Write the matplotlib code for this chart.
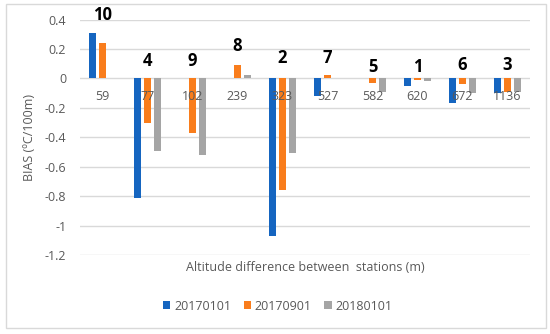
import matplotlib
matplotlib.use("Agg")
import matplotlib.pyplot as plt
from matplotlib.patches import Rectangle
import numpy as np

plt.rcParams["font.family"] = ["Open Sans", "DejaVu Sans"]

# --- data ---
altitudes = ["59", "77", "102", "239", "323", "527", "582", "620", "672", "1136"]
station_ids = ["10", "4", "9", "8", "2", "7", "5", "1", "6", "3"]
id_heights = [0.43, 0.12, 0.12, 0.22, 0.14, 0.14, 0.08, 0.08, 0.09, 0.09]
bias_20170101 = [0.31, -0.81, 0.0, 0.0, -1.07, -0.12, 0.0, -0.05, -0.17, -0.10]
bias_20170901 = [0.24, -0.30, -0.37, 0.09, -0.76, 0.02, -0.03, -0.01, -0.04, -0.09]
bias_20180101 = [0.0, -0.49, -0.52, 0.02, -0.51, 0.0, -0.09, -0.02, -0.10, -0.09]
series_names = ["20170101", "20170901", "20180101"]

colors = ["#1565c0", "#f97d1c", "#a5a5a5"]
txt = "#595959"

fig = plt.figure(figsize=(5.5, 3.34), dpi=100)
ax = fig.add_axes([0.1455, 0.2365, 0.818, 0.705])

x = np.arange(len(altitudes))
w = 0.16
step = 0.225
for i, (vals, name) in enumerate(zip([bias_20170101, bias_20170901, bias_20180101], series_names)):
    ax.bar(x + (i - 1) * step, vals, width=w, color=colors[i], label=name, zorder=3)

ax.set_xlim(-0.5, len(altitudes) - 0.5)
ax.set_ylim(-1.2, 0.4)
ax.set_yticks(np.arange(-1.2, 0.41, 0.2))
ax.set_yticklabels(["-1.2", "-1", "-0.8", "-0.6", "-0.4", "-0.2", "0", "0.2", "0.4"])
ax.set_xticks([])
ax.tick_params(axis="y", length=0, labelsize=9, colors=txt, pad=10)
ax.grid(axis="y", color="#d9d9d9", linewidth=1, zorder=0)
for s in ax.spines.values():
    s.set_visible(False)

# category labels sit just below the zero line
for xi, lab in zip(x, altitudes):
    ax.text(xi, -0.12, lab, ha="center", va="center", fontsize=9, color=txt, zorder=4)

# station ids above each group
for xi, sid, h in zip(x, station_ids, id_heights):
    ax.text(xi, h, sid, ha="center", va="center", fontsize=12, fontweight="bold",
            color="black", clip_on=False, zorder=4)

ax.set_ylabel("BIAS (ºC/100m)", fontsize=9, color=txt, labelpad=6)
fig.text(0.555, 0.2, "Altitude difference between  stations (m)", ha="center",
         va="center", fontsize=9, color=txt)

leg = fig.legend(loc="center", bbox_to_anchor=(0.505, 0.083), ncol=3, frameon=False,
                 fontsize=9, handlelength=0.6, handleheight=0.6, handletextpad=0.3,
                 columnspacing=1.0)
for t in leg.get_texts():
    t.set_color(txt)

fig.patches.append(Rectangle((0.011, 0.018), 0.982, 0.97, transform=fig.transFigure,
                             fill=False, edgecolor="#d9d9d9", linewidth=1))

fig.savefig("out.png", dpi=100)
